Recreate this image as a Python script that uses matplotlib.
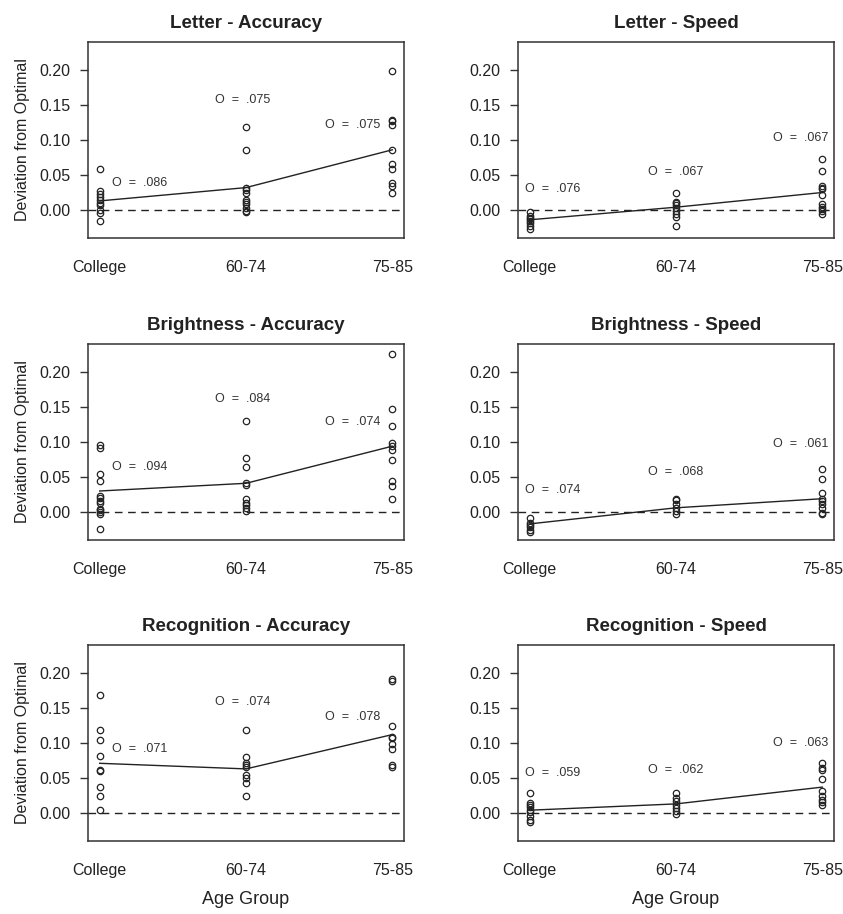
import matplotlib
matplotlib.use("Agg")
import matplotlib.pyplot as plt

plt.rcParams['font.family'] = ['Liberation Sans', 'DejaVu Sans']

groups = ["College", "60-74", "75-85"]

# individual deviations per group (College, 60-74, 75-85)
letter_acc = [
    [0.059, 0.027, 0.023, 0.019, 0.015, 0.010, 0.007, 0.000, -0.004, -0.015],
    [0.118, 0.086, 0.031, 0.028, 0.024, 0.014, 0.011, 0.008, 0.003, -0.001, -0.003],
    [0.198, 0.129, 0.127, 0.122, 0.086, 0.066, 0.059, 0.039, 0.034, 0.025],
]
letter_spd = [
    [-0.003, -0.008, -0.011, -0.013, -0.016, -0.018, -0.023, -0.027],
    [0.024, 0.012, 0.010, 0.007, 0.003, -0.002, -0.005, -0.010, -0.023],
    [0.073, 0.056, 0.035, 0.032, 0.030, 0.022, 0.008, 0.005, 0.002, -0.002, -0.005],
]
bright_acc = [
    [0.096, 0.091, 0.055, 0.045, 0.023, 0.020, 0.016, 0.013, 0.005, 0.003, 0.000, -0.003, -0.024],
    [0.130, 0.077, 0.064, 0.042, 0.039, 0.018, 0.013, 0.010, 0.006, 0.002],
    [0.226, 0.147, 0.123, 0.098, 0.094, 0.088, 0.075, 0.045, 0.037, 0.019],
]
bright_spd = [
    [-0.008, -0.015, -0.018, -0.022, -0.026, -0.028],
    [0.019, 0.017, 0.012, 0.006, 0.001, -0.003],
    [0.062, 0.047, 0.027, 0.018, 0.016, 0.011, 0.006, -0.001, -0.003],
]
recog_acc = [
    [0.168, 0.119, 0.104, 0.081, 0.062, 0.060, 0.037, 0.024, 0.004],
    [0.119, 0.080, 0.072, 0.069, 0.066, 0.055, 0.050, 0.043, 0.025],
    [0.191, 0.188, 0.125, 0.109, 0.107, 0.098, 0.092, 0.068, 0.066],
]
recog_spd = [
    [0.028, 0.015, 0.012, 0.008, 0.005, 0.001, -0.004, -0.010, -0.013],
    [0.028, 0.022, 0.017, 0.012, 0.007, 0.003, -0.001],
    [0.072, 0.065, 0.062, 0.049, 0.032, 0.024, 0.019, 0.016, 0.012],
]

# group means (solid line)
letter_acc_mean = [0.013, 0.032, 0.086]
letter_spd_mean = [-0.014, 0.004, 0.025]
bright_acc_mean = [0.030, 0.041, 0.094]
bright_spd_mean = [-0.017, 0.006, 0.019]
recog_acc_mean = [0.071, 0.063, 0.112]
recog_spd_mean = [0.004, 0.013, 0.037]

# O values printed next to each group
letter_acc_o = [".086", ".075", ".075"]
letter_spd_o = [".076", ".067", ".067"]
bright_acc_o = [".094", ".084", ".074"]
bright_spd_o = [".074", ".068", ".061"]
recog_acc_o = [".071", ".074", ".078"]
recog_spd_o = [".059", ".062", ".063"]

# layout: where each "O = " label sits (x, y) in data units
acc_lab_x = [1.27, 1.98, 2.73]
spd_lab_x = [1.16, 2.0, 2.85]
letter_acc_lab_y = [0.039, 0.157, 0.121]
letter_spd_lab_y = [0.030, 0.054, 0.103]
bright_acc_lab_y = [0.064, 0.162, 0.128]
bright_spd_lab_y = [0.032, 0.057, 0.097]
recog_acc_lab_y = [0.091, 0.159, 0.137]
recog_spd_lab_y = [0.057, 0.061, 0.100]

panels = [
    ("Letter - Accuracy", letter_acc, letter_acc_mean, letter_acc_o, acc_lab_x, letter_acc_lab_y),
    ("Letter - Speed", letter_spd, letter_spd_mean, letter_spd_o, spd_lab_x, letter_spd_lab_y),
    ("Brightness - Accuracy", bright_acc, bright_acc_mean, bright_acc_o, acc_lab_x, bright_acc_lab_y),
    ("Brightness - Speed", bright_spd, bright_spd_mean, bright_spd_o, spd_lab_x, bright_spd_lab_y),
    ("Recognition - Accuracy", recog_acc, recog_acc_mean, recog_acc_o, acc_lab_x, recog_acc_lab_y),
    ("Recognition - Speed", recog_spd, recog_spd_mean, recog_spd_o, spd_lab_x, recog_spd_lab_y),
]

W, H = 843, 914
fig = plt.figure(figsize=(W / 100, H / 100), dpi=100)

col_left = [88, 518]
box_w = 316
row_top = [42, 344, 645]
box_h = 196
ink = "#222222"

for i, (title, pts, mean, ovals, lab_x, lab_y) in enumerate(panels):
    r, c = divmod(i, 2)
    x0 = col_left[c] / W
    y0 = 1 - (row_top[r] + box_h) / H
    ax = fig.add_axes([x0, y0, box_w / W, box_h / H])

    ax.axhline(0, color=ink, lw=1.0, dashes=(5.5, 4), zorder=1)
    for g, vals in enumerate(pts):
        ax.plot([g + 1] * len(vals), vals, 'o', ms=4.6, mfc='none', mec=ink, mew=0.9, zorder=3)
    ax.plot([1, 2, 3], mean, '-', color=ink, lw=1.0, zorder=2)

    for g in range(3):
        ax.text(lab_x[g], lab_y[g], "O  =  " + ovals[g], ha='center', va='center',
                fontsize=9, color="#333333")

    ax.set_xlim(0.92, 3.08)
    ax.set_ylim(-0.04, 0.24)
    ax.set_xticks([1, 2, 3])
    ax.set_xticklabels(groups)
    ax.set_yticks([0.0, 0.05, 0.10, 0.15, 0.20])
    ax.set_yticklabels(["0.00", "0.05", "0.10", "0.15", "0.20"])
    ax.tick_params(axis='x', length=0, pad=16, labelsize=11.5, labelcolor=ink)
    ax.tick_params(axis='y', length=5.5, width=1.0, color="#333333", pad=7,
                   labelsize=11.5, labelcolor=ink)
    for s in ax.spines.values():
        s.set_color("#333333")
        s.set_linewidth(1.1)

    ax.set_title(title, fontsize=13.5, fontweight='bold', color=ink, pad=10)
    if c == 0:
        ax.set_ylabel("Deviation from Optimal", fontsize=11.5, color=ink, labelpad=7)
    if r == 2:
        ax.set_xlabel("Age Group", fontsize=13, color=ink, labelpad=9)

fig.savefig("out.png", dpi=100)
